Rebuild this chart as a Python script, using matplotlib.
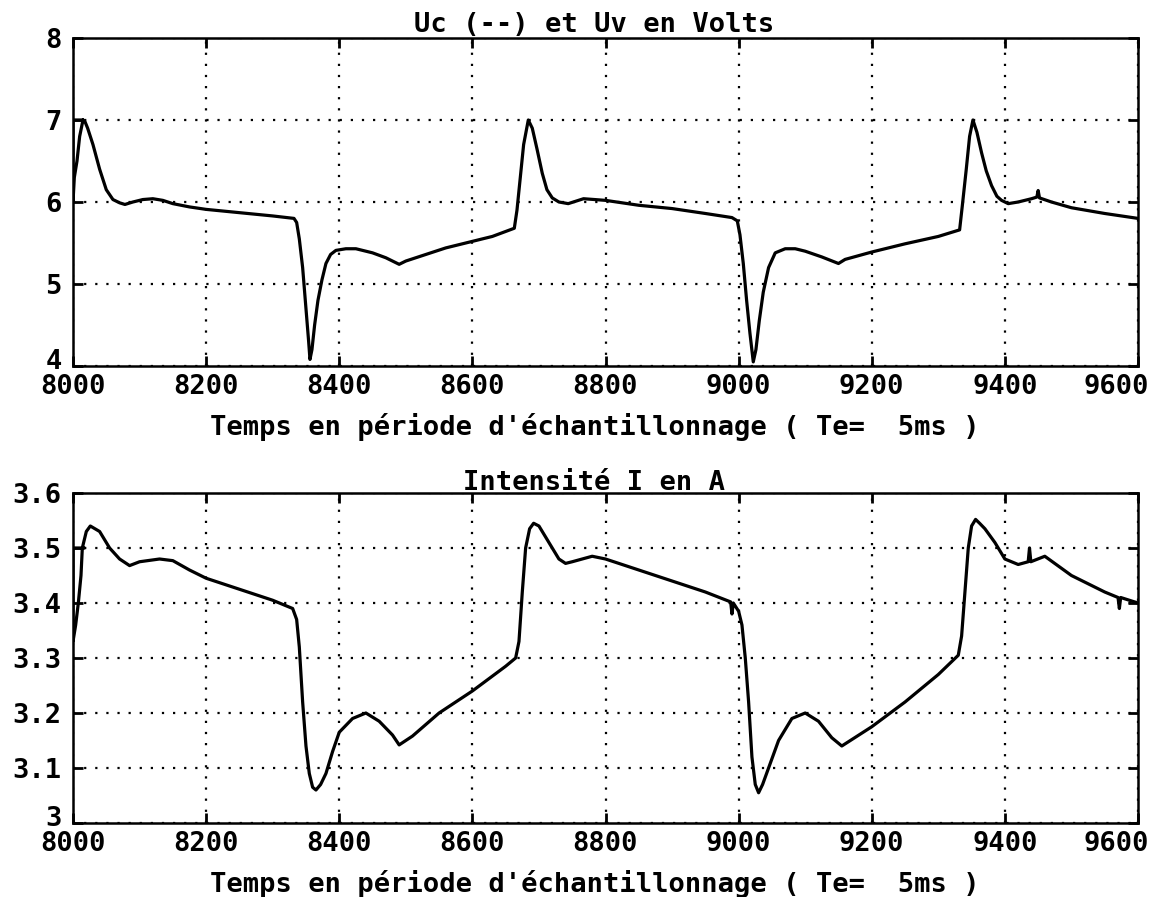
import matplotlib
matplotlib.use("Agg")
import matplotlib.pyplot as plt
from matplotlib.transforms import ScaledTranslation

# ---- data ----
t_uv = [8014, 8000, 8000, 8002, 8006, 8010, 8015, 8018, 8022, 8030, 8040, 8050, 8060,
        8070, 8078, 8090, 8105, 8120, 8135, 8150, 8175, 8200, 8250, 8300, 8332, 8336,
        8340, 8345, 8350, 8354, 8356, 8359, 8363, 8368, 8374, 8380, 8387, 8395, 8410,
        8425, 8450, 8470, 8490, 8500, 8530, 8560, 8600, 8630, 8663, 8667, 8672, 8677,
        8684, 8690, 8697, 8705, 8712, 8720, 8730, 8744, 8767, 8800, 8850, 8900, 8950,
        8990, 8998, 9002, 9007, 9012, 9017, 9022, 9026, 9031, 9037, 9045, 9055, 9070,
        9085, 9100, 9125, 9150, 9160, 9200, 9250, 9300, 9332, 9336, 9342, 9347, 9352,
        9358, 9365, 9372, 9380, 9388, 9395, 9405, 9420, 9440, 9448, 9450, 9452, 9470,
        9500, 9550, 9600]
uv = [7.0, 7.0, 6.0, 6.3, 6.5, 6.8, 7.0, 6.98, 6.9, 6.7, 6.4, 6.15, 6.03,
      5.99, 5.97, 6.0, 6.03, 6.04, 6.02, 5.98, 5.94, 5.91, 5.87, 5.83, 5.8, 5.75,
      5.55, 5.2, 4.7, 4.3, 4.08, 4.2, 4.5, 4.8, 5.05, 5.25, 5.36, 5.41, 5.43,
      5.43, 5.38, 5.32, 5.24, 5.28, 5.36, 5.44, 5.52, 5.58, 5.68, 5.9, 6.3, 6.7,
      7.0, 6.9, 6.65, 6.35, 6.15, 6.05, 6.0, 5.98, 6.04, 6.02, 5.96, 5.92, 5.86,
      5.81, 5.77, 5.6, 5.25, 4.8, 4.4, 4.05, 4.2, 4.55, 4.9, 5.2, 5.38, 5.43,
      5.43, 5.4, 5.33, 5.25, 5.3, 5.39, 5.49, 5.58, 5.66, 5.95, 6.4, 6.8, 7.0,
      6.85, 6.6, 6.38, 6.2, 6.07, 6.02, 5.98, 6.0, 6.04, 6.06, 6.14, 6.05, 6.0,
      5.93, 5.86, 5.8]

t_i = [8016, 8000, 8000, 8004, 8008, 8012, 8014, 8020, 8026, 8040, 8055, 8070, 8085,
       8100, 8130, 8150, 8175, 8200, 8250, 8300, 8330, 8336, 8340, 8345, 8350, 8355,
       8360, 8365, 8372, 8380, 8390, 8400, 8420, 8440, 8460, 8480, 8490, 8510, 8550,
       8600, 8650, 8665, 8670, 8675, 8680, 8686, 8692, 8700, 8710, 8720, 8730, 8740,
       8750, 8780, 8800, 8850, 8900, 8950, 8988, 8990, 8992, 9000, 9005, 9010, 9015,
       9020, 9025, 9030, 9036, 9045, 9060, 9080, 9100, 9120, 9140, 9155, 9200, 9250,
       9300, 9330, 9335, 9340, 9345, 9350, 9356, 9362, 9370, 9385, 9400, 9420, 9435,
       9437, 9439, 9460, 9500, 9550, 9570, 9572, 9574, 9600]
i_a = [3.5, 3.5, 3.33, 3.36, 3.4, 3.45, 3.5, 3.53, 3.54, 3.53, 3.5, 3.48, 3.468,
       3.475, 3.48, 3.477, 3.46, 3.445, 3.425, 3.405, 3.39, 3.37, 3.32, 3.22, 3.14, 3.09,
       3.065, 3.06, 3.07, 3.09, 3.13, 3.165, 3.19, 3.2, 3.185, 3.16, 3.142, 3.158, 3.2,
       3.24, 3.285, 3.3, 3.33, 3.42, 3.5, 3.535, 3.545, 3.54, 3.52, 3.5, 3.48, 3.472,
       3.475, 3.485, 3.48, 3.46, 3.44, 3.42, 3.402, 3.38, 3.4, 3.385, 3.36, 3.3, 3.22,
       3.12, 3.07, 3.055, 3.07, 3.1, 3.15, 3.19, 3.2, 3.185, 3.155, 3.14, 3.175, 3.22,
       3.27, 3.305, 3.34, 3.42, 3.5, 3.54, 3.552, 3.545, 3.535, 3.51, 3.48, 3.47, 3.475,
       3.5, 3.475, 3.485, 3.45, 3.42, 3.41, 3.39, 3.41, 3.4]

x_ticks = [8000, 8200, 8400, 8600, 8800, 9000, 9200, 9400, 9600]
uv_ticks = [4, 5, 6, 7, 8]
i_ticks = [3, 3.1, 3.2, 3.3, 3.4, 3.5, 3.6]

title_top = "Uc (--) et Uv en Volts"
title_bot = "Intensité I en A"
xlabel = "Temps en période d'échantillonnage ( Te=  5ms )"

FONT = dict(family=["DejaVu Sans Mono"], weight="bold", size=19.5)

W, H = 1150, 897
fig = plt.figure(figsize=(W / 100, H / 100), dpi=100)
fig.patch.set_facecolor("white")

def px_axes(left, top, right, bottom):
    return fig.add_axes([left / W, 1 - bottom / H, (right - left) / W, (bottom - top) / H])

ax1 = px_axes(73, 38, 1138, 366)
ax2 = px_axes(73, 493, 1138, 823)

def style(ax, yt, ylim, title, tpad):
    ax.set_xlim(8000, 9600)
    ax.set_ylim(*ylim)
    ax.set_xticks(x_ticks)
    ax.set_yticks(yt)
    ax.set_xticklabels([str(v) for v in x_ticks], fontdict=FONT)
    ax.set_yticklabels(["%g" % v for v in yt], fontdict=FONT)
    ax.tick_params(direction="in", length=7, width=2, top=True, right=True,
                   pad=6, colors="black")
    ax.tick_params(axis="y", pad=8)
    ax.grid(True, color="black", linestyle=(0, (1, 4)), linewidth=1.6)
    for s in ax.spines.values():
        s.set_linewidth(1.8)
    ax.set_title(title, fontdict=FONT, pad=tpad, x=(594 - 73) / 1065)
    ax.set_xlabel(xlabel, fontdict=FONT, labelpad=9, x=(595 - 73) / 1065)
    # last x label flush with the right edge, lowest y label raised a little
    lab = ax.get_xticklabels()[-1]
    lab.set_horizontalalignment("right")
    lab.set_transform(lab.get_transform() + ScaledTranslation(8 / 72, 0, fig.dpi_scale_trans))
    ylab = ax.get_yticklabels()[0]
    ylab.set_transform(ylab.get_transform() + ScaledTranslation(0, 5 / 72, fig.dpi_scale_trans))

ax1.plot(t_uv, uv, color="black", linewidth=2.3)
style(ax1, uv_ticks, (4, 8), title_top, 4)
ax2.plot(t_i, i_a, color="black", linewidth=2.3)
style(ax2, i_ticks, (3, 3.6), title_bot, 2)

fig.savefig("out.png", dpi=100, facecolor="white")
